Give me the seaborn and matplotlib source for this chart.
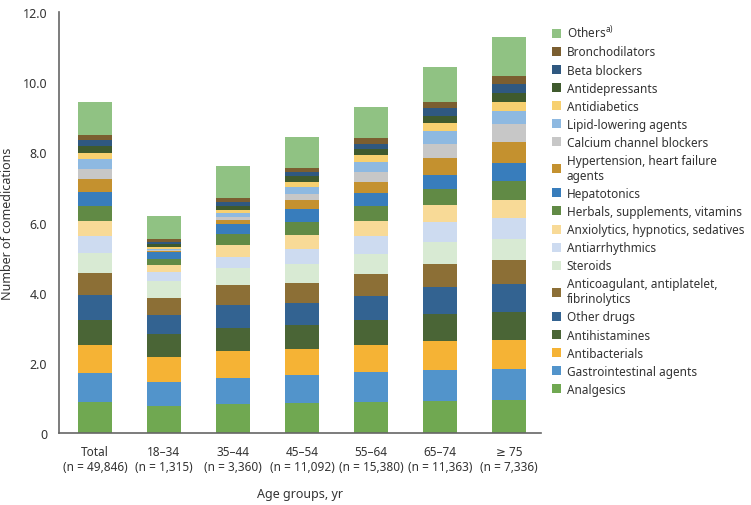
import numpy as np
import pandas as pd
import seaborn as sns
import matplotlib.pyplot as plt
from matplotlib.patches import Patch

# Age groups (x axis)
groups = ["Total\n(n = 49,846)", "18\u201334\n(n = 1,315)", "35\u201344\n(n = 3,360)",
          "45\u201354\n(n = 11,092)", "55\u201364\n(n = 15,380)", "65\u201374\n(n = 11,363)",
          "\u2265 75\n(n = 7,336)"]

# Mean number of comedications per class, bottom to top
analgesics      = [0.88, 0.78, 0.82, 0.85, 0.87, 0.91, 0.93]
gastro          = [0.83, 0.67, 0.76, 0.80, 0.86, 0.88, 0.89]
antibacterials  = [0.80, 0.73, 0.76, 0.75, 0.79, 0.83, 0.84]
antihistamines  = [0.72, 0.63, 0.66, 0.68, 0.70, 0.77, 0.79]
other_drugs     = [0.71, 0.55, 0.66, 0.63, 0.69, 0.77, 0.80]
anticoagulant   = [0.62, 0.49, 0.56, 0.58, 0.61, 0.66, 0.67]
steroids        = [0.57, 0.47, 0.49, 0.52, 0.58, 0.62, 0.62]
antiarrhythmics = [0.49, 0.26, 0.32, 0.44, 0.51, 0.57, 0.58]
anxiolytics     = [0.43, 0.21, 0.33, 0.39, 0.44, 0.49, 0.51]
herbals         = [0.43, 0.18, 0.31, 0.37, 0.41, 0.47, 0.56]
hepatotonics    = [0.39, 0.18, 0.28, 0.38, 0.37, 0.39, 0.50]
hypertension    = [0.37, 0.04, 0.13, 0.25, 0.34, 0.49, 0.62]
ccb             = [0.28, 0.03, 0.09, 0.18, 0.27, 0.38, 0.49]
lipid           = [0.29, 0.04, 0.11, 0.19, 0.29, 0.37, 0.38]
antidiabetics   = [0.18, 0.03, 0.07, 0.15, 0.19, 0.23, 0.26]
antidepressants = [0.18, 0.09, 0.12, 0.16, 0.18, 0.21, 0.26]
beta_blockers   = [0.18, 0.07, 0.11, 0.12, 0.15, 0.22, 0.26]
bronchodilators = [0.16, 0.08, 0.13, 0.12, 0.15, 0.18, 0.22]
others          = [0.94, 0.67, 0.90, 0.89, 0.89, 0.99, 1.10]

classes = ["Analgesics", "Gastrointestinal agents", "Antibacterials", "Antihistamines",
           "Other drugs", "Anticoagulant, antiplatelet,\nfibrinolytics", "Steroids",
           "Antiarrhythmics", "Anxiolytics, hypnotics, sedatives",
           "Herbals, supplements, vitamins", "Hepatotonics",
           "Hypertension, heart failure\nagents", "Calcium channel blockers",
           "Lipid-lowering agents", "Antidiabetics", "Antidepressants",
           "Beta blockers", "Bronchodilators", "Others$^{\\mathrm{a)}}$"]
series = [analgesics, gastro, antibacterials, antihistamines, other_drugs, anticoagulant,
          steroids, antiarrhythmics, anxiolytics, herbals, hepatotonics, hypertension,
          ccb, lipid, antidiabetics, antidepressants, beta_blockers, bronchodilators, others]
colors = ["#70a851", "#5294cb", "#f5b335", "#4a6536", "#336391", "#8c6f36", "#d8ead3",
          "#cddbf0", "#f8da97", "#618a45", "#387dbc", "#c4912f", "#c7c7c7", "#8eb9e1",
          "#f7d070", "#3f5a2d", "#2f5880", "#7b5e30", "#90c283"]

sns.set_style("white")
plt.rcParams["font.family"] = ["Noto Sans", "DejaVu Sans"]
plt.rcParams["mathtext.fontset"] = "custom"
plt.rcParams["mathtext.rm"] = "Noto Sans"
plt.rcParams["text.color"] = "#333333"

df = pd.DataFrame(dict(zip(classes, series)))
df["group"] = groups
cum = df[classes].cumsum(axis=1)

fig = plt.figure(figsize=(7.51, 5.06), dpi=100)
ax = fig.add_axes([0.0786, 0.1423, 0.6414, 0.8317])

# stacked bars: draw cumulative totals from the top layer down
for cls, col in zip(classes[::-1], colors[::-1]):
    sns.barplot(x=df["group"], y=cum[cls], color=col, width=0.49, ax=ax,
                saturation=1, linewidth=0, order=groups)

ax.set_ylim(0, 12)
ax.set_xlim(-0.52, 6.46)
ax.set_yticks([0, 2, 4, 6, 8, 10, 12])
ax.set_yticklabels(["0", "2.0", "4.0", "6.0", "8.0", "10.0", "12.0"])
ax.set_xlabel("Age groups, yr", fontsize=9, color="#333333", labelpad=10)
ax.set_ylabel("Number of comedications", fontsize=9, color="#333333", labelpad=6)
ax.tick_params(axis="y", labelsize=9)
ax.tick_params(axis="x", labelsize=8.5)
ax.tick_params(axis="both", labelcolor="#333333", color="#666666", length=5, width=1,
               direction="out")
sns.despine(ax=ax)
for s in ["left", "bottom"]:
    ax.spines[s].set_color("#666666")
    ax.spines[s].set_linewidth(1.2)

handles = [Patch(facecolor=c, edgecolor="none") for c in colors[::-1]]
fig.legend(handles, classes[::-1], loc="upper left", bbox_to_anchor=(0.735, 0.951),
           frameon=False, fontsize=8.5, handlelength=0.8, handleheight=0.8,
           handletextpad=0.45, labelspacing=0.43, borderaxespad=0, borderpad=0)

fig.savefig("out.png", dpi=100)
